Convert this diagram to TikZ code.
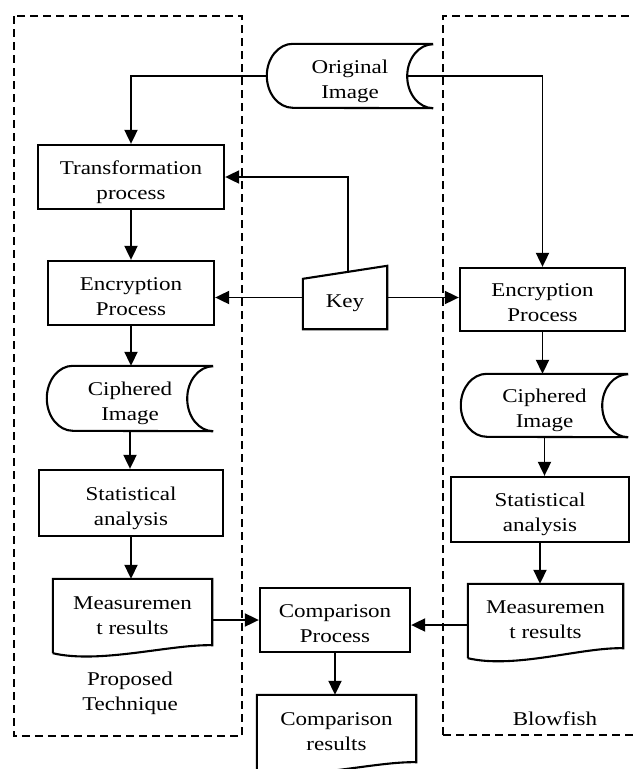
\documentclass[tikz,border=0pt]{standalone}
\usepackage{fontspec}
\setmainfont{Liberation Serif}[FakeStretch=1.18]
\usetikzlibrary{arrows.meta,calc}
\newcommand\tx[1]{\raisebox{-4.5pt}[\height][\depth]{\begin{tabular}{@{}c@{}}#1\end{tabular}}}
\begin{document}
\begin{tikzpicture}[x=1pt,y=-1pt,
  every node/.style={font=\fontsize{19.5}{25}\selectfont, inner sep=0pt, text=black},
  procbox/.style={draw, line width=2.3pt, minimum width=#1},
  plainshape/.style={minimum width=#1},
  shapeline/.style={line width=2.1pt, line join=miter},
  conn/.style={line width=1.9pt},
  arr/.style={conn, -{Triangle[length=14pt,width=13pt]}},
  group/.style={line width=2.3pt, dash pattern=on 8pt off 5pt}
]
\useasboundingbox (0,0) rectangle (633,769);

% dashed group boxes
\draw[group] (14,16) rectangle (242,736);
\draw[group] (443,735) -- (443,16) -- (645,16);
\draw[group] (443,735) -- (645,735);

% nodes
\node[plainshape=166pt, minimum height=64pt] (orig) at (350,76) {\tx{Original\\Image}};
\node[procbox=186pt, minimum height=64pt] (trans) at (131,177) {\tx{Transformation\\process}};
\node[procbox=166pt, minimum height=64pt] (encL) at (131,293) {\tx{Encryption\\Process}};
\node[plainshape=166pt, minimum height=65pt] (cipL) at (130,398.5) {\tx{Ciphered\\Image}};
\node[procbox=184pt, minimum height=66pt] (statL) at (131,503) {\tx{Statistical\\analysis}};
\node[plainshape=159pt, minimum height=66pt] (measL) at (132.5,612) {\tx{Measuremen\\t results}};
\node[plainshape=84pt, minimum height=63pt] (key) at (345,297.5) {\tx{Key}};
\node[procbox=165pt, minimum height=63pt] (encR) at (542.5,299.5) {\tx{Encryption\\Process}};
\node[plainshape=167pt, minimum height=63pt] (cipR) at (544.5,405.5) {\tx{Ciphered\\Image}};
\node[procbox=178pt, minimum height=65pt] (statR) at (540,509.5) {\tx{Statistical\\analysis}};
\node[plainshape=155pt, minimum height=64pt] (measR) at (545.5,616) {\tx{Measuremen\\t results}};
\node[procbox=150pt, minimum height=64pt] (comp) at (335,620) {\tx{Comparison\\Process}};
\node[plainshape=159pt, minimum height=67pt] (compres) at (336.5,728.5) {\tx{Comparison\\results}};
\node (lblL) at (130,688) {\tx{Proposed\\Technique}};
\node (lblR) at (555,716) {\tx{Blowfish}};

% stored data shapes
\foreach \n/\h in {orig/32pt, cipL/32.5pt, cipR/31.5pt}{
  \draw[shapeline] (\n.north east) -- ([xshift=26pt]\n.north west)
     arc[start angle=90, end angle=270, x radius=26pt, y radius=\h]
     -- (\n.south east)
     arc[start angle=270, end angle=90, x radius=26pt, y radius=\h];
}
% document shapes
\foreach \n/\d in {measL/8, measR/10, compres/8}{
  \draw[shapeline] ($(\n.south west)+(0,\d)$) -- (\n.north west) -- (\n.north east) -- (\n.south east)
     .. controls ($(\n.south east)+(-42,-1)$) and ($(\n.south west)+(47,\d+11)$) .. ($(\n.south west)+(0,\d)$);
}
% manual input (key)
\draw[shapeline] (key.south west) -- ($(key.north west)+(0,13)$) -- (key.north east) -- (key.south east) -- cycle;
\coordinate (keytop) at ($(key.north west)+(45,6)$);
\coordinate (origin) at ($(orig.east)+(-26,0)$);

% connectors
\draw[arr] (orig.west) -| (trans.north);
\draw[arr] (origin) -| (encR.north);
\draw[arr] (keytop) |- (trans.east);
\draw[arr] (key.west) -- (key.west -| encL.east);
\draw[arr] (key.east) -- (key.east -| encR.west);

\draw[arr] (trans.south) -- (trans.south |- encL.north);
\draw[arr] (encL.south) -- (encL.south |- cipL.north);
\draw[arr] (cipL.south) -- (cipL.south |- statL.north);
\draw[arr] (statL.south) -- (statL.south |- measL.north);

\draw[arr] (encR.south) -- (encR.south |- cipR.north);
\draw[arr] (cipR.south) -- (cipR.south |- statR.north);
\draw[arr] (statR.south) -- (statR.south |- measR.north);

\draw[arr] (comp.west -| measL.east) -- (comp.west);
\draw[arr] ($(comp.east -| measR.west)+(0,5)$) -- ($(comp.east)+(0,5)$);
\draw[arr] (comp.south) -- (comp.south |- compres.north);
\end{tikzpicture}
\end{document}
